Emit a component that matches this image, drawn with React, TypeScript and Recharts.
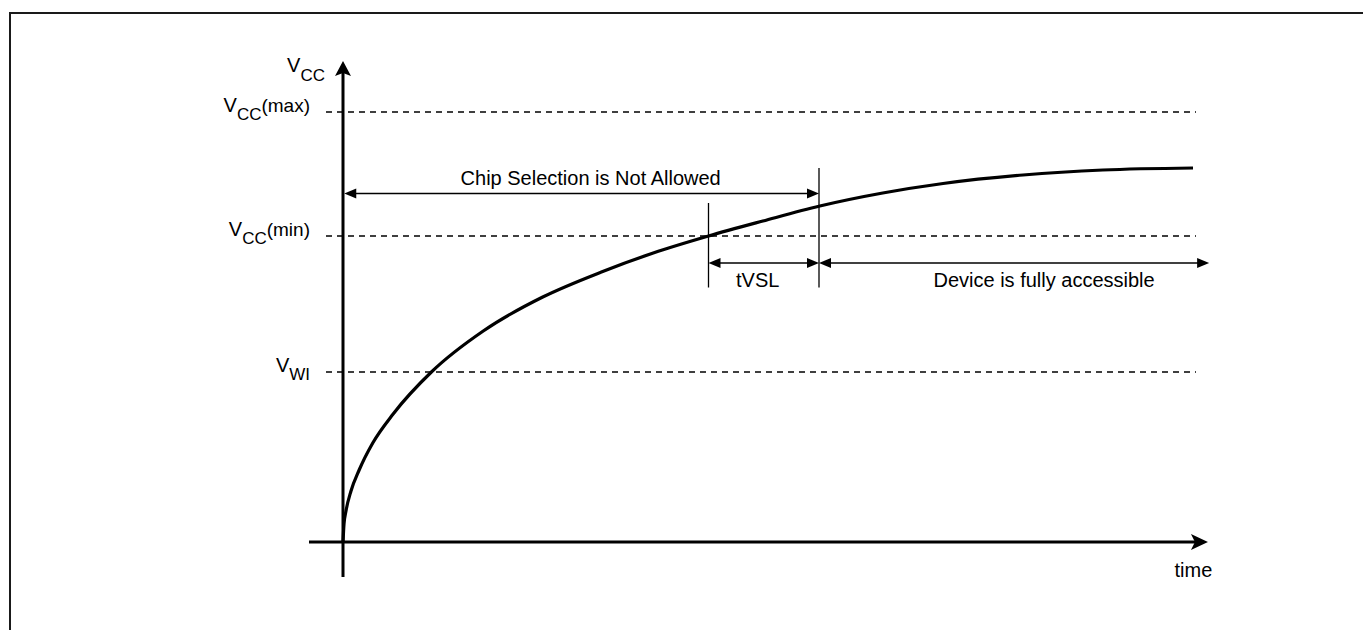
import { ComposedChart, Line, ReferenceLine, XAxis, YAxis } from "recharts";

// power-up curve (time in arbitrary units, Vcc in arbitrary units)
const TIME = [0, 0.12, 0.35, 0.94, 1.9, 3.5, 5.9, 10.4, 16.5, 23.5, 30.4, 36.5, 43, 49.4, 56.1, 63.5, 70.6, 80, 89.4, 100];
const VCC = [0, 1.8, 3.1, 5.1, 7.2, 9.9, 12.8, 17.0, 21.1, 24.5, 27.0, 28.9, 30.6, 32.1, 33.6, 34.9, 35.85, 36.7, 37.2, 37.4];

// threshold levels
const LEVELS = [
  { v: 43, sub: "CC", tail: "(max)" },
  { v: 30.6, sub: "CC", tail: "(min)" },
  { v: 17, sub: "WI", tail: "" },
];

// timing marks
const T_VCC_MIN = 43; // curve crosses Vcc(min)
const T_VSL_END = 56; // tVSL elapsed
const T_DEVICE_END = 101.9;
const DIM_Y = 27.9; // level of the tVSL / device arrows
const CHIP_Y = 34.85; // level of the "not allowed" arrow

const X_DOMAIN = [-4, 104];
const Y_DOMAIN = [-4, 54];
const LINE_START = -2;
const LINE_END = 100.35;

const FONT = '"Liberation Sans", Arial, Helvetica, sans-serif';
const INK = "#000";

const data = TIME.map((t, i) => ({ t, v: VCC[i] }));

function head(tx: number, ty: number, dx: number, dy: number, len: number, half: number, notch = 0) {
  const bx = tx - dx * len;
  const by = ty - dy * len;
  const nx = -dy;
  const ny = dx;
  const pts = [
    [tx, ty],
    [bx + nx * half, by + ny * half],
    [tx - dx * (len - notch), ty - dy * (len - notch)],
    [bx - nx * half, by - ny * half],
  ];
  return <polygon points={pts.map((p) => p.join(",")).join(" ")} fill={INK} />;
}

type ArrowOpts = {
  start?: boolean;
  end?: boolean;
  width: number;
  len: number;
  half: number;
  notch?: number;
  extra?: (p: any) => any;
};

const arrowLine = (o: ArrowOpts) => (p: any) => {
  const { x1, y1, x2, y2 } = p;
  const L = Math.hypot(x2 - x1, y2 - y1) || 1;
  const dx = (x2 - x1) / L;
  const dy = (y2 - y1) / L;
  const cut = o.len - (o.notch ?? 0) - 1;
  const sx = o.start ? x1 + dx * cut : x1;
  const sy = o.start ? y1 + dy * cut : y1;
  const ex = o.end ? x2 - dx * cut : x2;
  const ey = o.end ? y2 - dy * cut : y2;
  return (
    <g>
      <line x1={sx} y1={sy} x2={ex} y2={ey} stroke={INK} strokeWidth={o.width} />
      {o.end && head(x2, y2, dx, dy, o.len, o.half, o.notch)}
      {o.start && head(x1, y1, -dx, -dy, o.len, o.half, o.notch)}
      {o.extra && o.extra(p)}
    </g>
  );
};

const levelLine = (lv: { sub: string; tail: string }) => (p: any) => (
  <g>
    <line
      x1={p.x1}
      y1={p.y1}
      x2={p.x2}
      y2={p.y2}
      stroke={INK}
      strokeWidth={1.3}
      strokeDasharray="6 5"
    />
    <text x={p.x1 - 16} y={p.y1} textAnchor="end" fontFamily={FONT} fill={INK}>
      <tspan fontSize={20}>V</tspan>
      <tspan fontSize={17} dy={8}>
        {lv.sub}
      </tspan>
      {lv.tail && (
        <tspan fontSize={19} dy={-8}>
          {lv.tail}
        </tspan>
      )}
    </text>
  </g>
);

const plain = (p: any) => (
  <line x1={p.x1} y1={p.y1} x2={p.x2} y2={p.y2} stroke={INK} strokeWidth={1.3} />
);

const label = (x: number, y: number, s: string) => (
  <text x={x} y={y} textAnchor="middle" fontFamily={FONT} fontSize={20} fill={INK}>
    {s}
  </text>
);

export default function App() {
  return (
    <div
      style={{
        position: "fixed",
        left: 0,
        top: 0,
        width: 1363,
        height: 630,
        overflow: "hidden",
        background: "#fff",
      }}
    >
      <div
        style={{
          position: "absolute",
          left: 9,
          top: 12,
          width: 1400,
          height: 700,
          borderLeft: "2px solid #1a1a1a",
          borderTop: "2px solid #1a1a1a",
        }}
      />
      <div style={{ position: "absolute", left: 0, top: 0 }}>
        <ComposedChart
          width={1363}
          height={630}
          data={data}
          margin={{ top: 2, right: 136, bottom: 48, left: 309 }}
        >
          <XAxis type="number" dataKey="t" domain={X_DOMAIN} hide />
          <YAxis type="number" domain={Y_DOMAIN} hide />

          {LEVELS.map((lv) => (
            <ReferenceLine
              key={lv.v}
              segment={[
                { x: LINE_START, y: lv.v },
                { x: LINE_END, y: lv.v },
              ]}
              shape={levelLine(lv)}
            />
          ))}

          {/* time axis */}
          <ReferenceLine
            segment={[
              { x: -4, y: 0 },
              { x: 101.76, y: 0 },
            ]}
            shape={arrowLine({
              end: true,
              width: 3,
              len: 17,
              half: 8,
              notch: 4,
              extra: (p) => label(p.x2 - 14.5, p.y1 + 35, "time"),
            })}
          />
          {/* Vcc axis */}
          <ReferenceLine
            segment={[
              { x: 0, y: -3.5 },
              { x: 0, y: 48.1 },
            ]}
            shape={arrowLine({
              end: true,
              width: 3,
              len: 15,
              half: 8,
              notch: 3,
              extra: (p) => (
                <text x={p.x2 - 18} y={p.y2 + 11} textAnchor="end" fontFamily={FONT} fill={INK}>
                  <tspan fontSize={20}>V</tspan>
                  <tspan fontSize={17} dy={9}>
                    CC
                  </tspan>
                </text>
              ),
            })}
          />

          <ReferenceLine
            segment={[
              { x: T_VCC_MIN, y: 25.45 },
              { x: T_VCC_MIN, y: 33.9 },
            ]}
            shape={plain}
          />
          <ReferenceLine
            segment={[
              { x: T_VSL_END, y: 25.45 },
              { x: T_VSL_END, y: 37.4 },
            ]}
            shape={plain}
          />

          <ReferenceLine
            segment={[
              { x: 0.15, y: CHIP_Y },
              { x: T_VSL_END, y: CHIP_Y },
            ]}
            shape={arrowLine({
              start: true,
              end: true,
              width: 1.4,
              len: 12,
              half: 5,
              extra: (p) =>
                label((p.x1 + p.x2) / 2 + 9, p.y1 - 8.5, "Chip Selection is Not Allowed"),
            })}
          />
          <ReferenceLine
            segment={[
              { x: T_VCC_MIN, y: DIM_Y },
              { x: T_VSL_END, y: DIM_Y },
            ]}
            shape={arrowLine({
              start: true,
              end: true,
              width: 1.4,
              len: 12,
              half: 5,
              extra: (p) => label((p.x1 + p.x2) / 2 - 6, p.y1 + 24, "tVSL"),
            })}
          />
          <ReferenceLine
            segment={[
              { x: T_VSL_END, y: DIM_Y },
              { x: T_DEVICE_END, y: DIM_Y },
            ]}
            shape={arrowLine({
              start: true,
              end: true,
              width: 1.4,
              len: 12,
              half: 5,
              extra: (p) =>
                label((p.x1 + p.x2) / 2 + 30, p.y1 + 24, "Device is fully accessible"),
            })}
          />

          <Line
            dataKey="v"
            type="monotone"
            stroke={INK}
            strokeWidth={3.2}
            dot={false}
            activeDot={false}
            isAnimationActive={false}
          />
        </ComposedChart>
      </div>
    </div>
  );
}
